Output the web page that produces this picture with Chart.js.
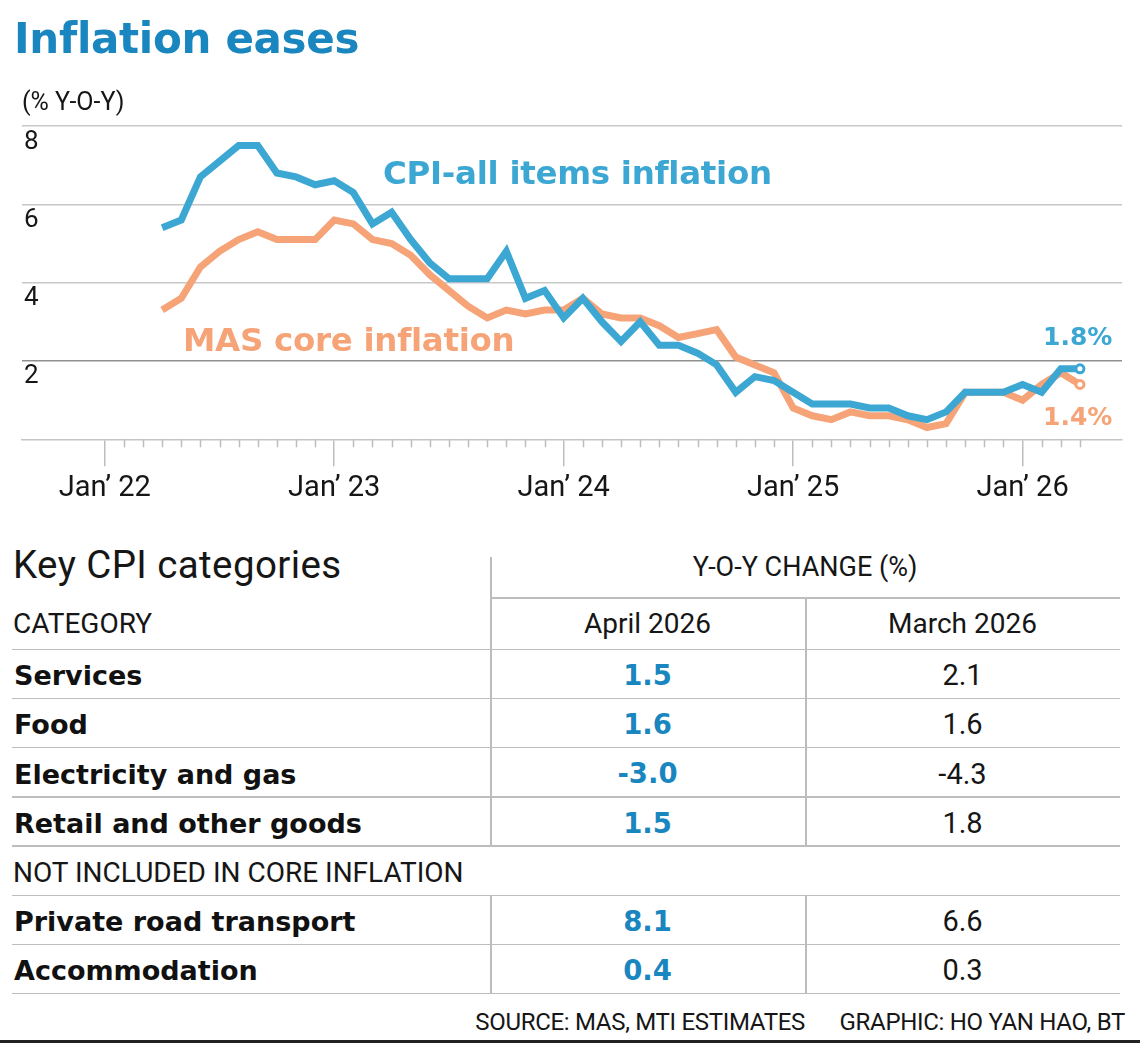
<!DOCTYPE html>
<html>
<head>
<meta charset="utf-8">
<title>Inflation eases</title>
<script src="https://cdn.jsdelivr.net/npm/chart.js@4.4.1/dist/chart.umd.min.js"></script>
<style>
  body { margin: 0; background: #fff; font-family: Roboto, "Noto Sans", sans-serif; color: #161616; }
  #page { position: relative; width: 1140px; height: 1045px; overflow: hidden; background: #fff; }
  #chartBox { position: absolute; left: 0; top: 0; width: 1140px; height: 520px; }
  .t { position: absolute; white-space: nowrap; line-height: 1; }
  .bold { font-family: "DejaVu Sans", Roboto, sans-serif; font-weight: 700; }
  .hl { position: absolute; height: 1.5px; background: #bdbdbd; }
  .vl { position: absolute; width: 1.5px; background: #bdbdbd; }
</style>
</head>
<body>
<div id="page">
  <div id="chartBox"><canvas id="inflationChart"></canvas></div>
</div>

<script>
// ---- data ----
// month index: 0 = Jan 2022, series start at Apr 2022 (index 3)
const firstMonth = 3;
const cpiAllItems = [
    5.4, 5.6, 6.7, 7.1, 7.5, 7.5, 6.8, 6.7, 6.5,                 // Apr-Dec 2022
    6.6, 6.3, 5.5, 5.8, 5.1, 4.5, 4.1, 4.1, 4.1, 4.8, 3.6, 3.8,  // 2023
    3.1, 3.6, 3.0, 2.5, 3.0, 2.4, 2.4, 2.2, 1.9, 1.2, 1.6, 1.5,  // 2024
    1.2, 0.9, 0.9, 0.9, 0.8, 0.8, 0.6, 0.5, 0.7, 1.2, 1.2, 1.2,  // 2025
    1.4, 1.2, 1.8, 1.8                                           // Jan-Apr 2026
];
const masCore = [
    3.3, 3.6, 4.4, 4.8, 5.1, 5.3, 5.1, 5.1, 5.1,
    5.6, 5.5, 5.1, 5.0, 4.7, 4.2, 3.8, 3.4, 3.1, 3.3, 3.2, 3.3,
    3.3, 3.6, 3.2, 3.1, 3.1, 2.9, 2.6, 2.7, 2.8, 2.1, 1.9, 1.7,
    0.8, 0.6, 0.5, 0.7, 0.6, 0.6, 0.5, 0.3, 0.4, 1.2, 1.2, 1.2,
    1.0, 1.4, 1.7, 1.4
];
const yearTicks = [0, 12, 24, 36, 48];
const yearLabels = ['Jan\u2019 22', 'Jan\u2019 23', 'Jan\u2019 24', 'Jan\u2019 25', 'Jan\u2019 26'];
const yTicks = [0, 2, 4, 6, 8];

const categories = ['Services', 'Food', 'Electricity and gas', 'Retail and other goods',
                    'Private road transport', 'Accommodation'];
const april2026 = [1.5, 1.6, -3.0, 1.5, 8.1, 0.4];
const march2026 = [2.1, 1.6, -4.3, 1.8, 6.6, 0.3];
const coreCount = 4; // first four rows are in core inflation

// ---- layout ----
const PLOT = { left: 22, right: 1122, top: 126, bottom: 439.3 };
const BLUE_LINE = '#3ca7d2';
const ORANGE_LINE = '#f5a377';
const BLUE_TEXT = '#1a86bf';
const page = document.getElementById('page');

// place text so its cap-height centre sits on cy
function addText(str, x, cy, size, opts = {}) {
    const el = document.createElement('div');
    el.className = 't' + (opts.bold ? ' bold' : '');
    el.textContent = str;
    el.style.fontSize = size + 'px';
    el.style.top = (cy - 0.49 * size) + 'px';
    if (opts.color) el.style.color = opts.color;
    if (opts.spacing) el.style.letterSpacing = opts.spacing + 'px';
    if (opts.align === 'center') {
        el.style.left = x + 'px';
        el.style.transform = 'translateX(-50%)';
    } else if (opts.align === 'right') {
        el.style.right = (1140 - x) + 'px';
    } else {
        el.style.left = x + 'px';
    }
    page.appendChild(el);
    return el;
}

function addLine(cls, x, y, len) {
    const el = document.createElement('div');
    el.className = cls;
    el.style.left = x + 'px';
    el.style.top = y + 'px';
    if (cls === 'hl') el.style.width = len + 'px'; else el.style.height = len + 'px';
    page.appendChild(el);
    return el;
}

// ---- headings and chart annotations ----
addText('Inflation eases', 14, 38.5, 42, { bold: true, color: BLUE_TEXT, spacing: -0.3 });
addText('(% Y-O-Y)', 22, 101, 25);
addText('CPI-all items inflation', 383, 173, 32.5, { bold: true, color: BLUE_LINE, spacing: -0.3 });
addText('MAS core inflation', 183, 340, 32.5, { bold: true, color: ORANGE_LINE, spacing: -0.3 });
addText(cpiAllItems[cpiAllItems.length - 1].toFixed(1) + '%', 1043, 336, 25, { bold: true, color: BLUE_LINE });
addText(masCore[masCore.length - 1].toFixed(1) + '%', 1043, 416, 25, { bold: true, color: ORANGE_LINE });

// ---- chart ----
const toPoints = arr => arr.map((v, i) => ({ x: firstMonth + i, y: v }));
const lastOnly = r => (ctx) => ctx.dataIndex === ctx.dataset.data.length - 1 ? r : 0;

// short monthly ticks under the axis (Jan ticks come from the x scale itself)
const monthTicks = {
    id: 'monthTicks',
    afterDraw(chart) {
        const x = chart.scales.x;
        const ctx = chart.ctx;
        const y0 = chart.chartArea.bottom;
        ctx.save();
        ctx.strokeStyle = '#bdbdbd';
        ctx.lineWidth = 1.5;
        const last = firstMonth + cpiAllItems.length - 1;
        for (let m = 1; m <= last; m++) {
            if (m % 12 === 0) continue;
            const px = Math.round(x.getPixelForValue(m)) + 0.5;
            ctx.beginPath();
            ctx.moveTo(px, y0);
            ctx.lineTo(px, y0 + 8);
            ctx.stroke();
        }
        ctx.restore();
    }
};

function lineDataset(label, values, color, order) {
    return {
        label: label,
        data: toPoints(values),
        borderColor: color,
        borderWidth: 7,
        tension: 0,
        borderJoinStyle: 'miter',
        pointRadius: lastOnly(4),
        pointHoverRadius: 0,
        pointBackgroundColor: '#fff',
        pointBorderColor: color,
        pointBorderWidth: 3,
        order: order
    };
}

const ctx = document.getElementById('inflationChart').getContext('2d');
const inflationChart = new Chart(ctx, {
    type: 'line',
    data: {
        datasets: [
            lineDataset('CPI-all items inflation', cpiAllItems, BLUE_LINE, 0),
            lineDataset('MAS core inflation', masCore, ORANGE_LINE, 1)
        ]
    },
    options: {
        responsive: true,
        maintainAspectRatio: false,
        animation: false,
        layout: { padding: { left: 20, right: 18, top: 126, bottom: 20 } },
        plugins: { legend: { display: false }, tooltip: { enabled: false } },
        scales: {
            x: {
                type: 'linear',
                min: -4.33,
                max: 53.2,
                afterBuildTicks: axis => { axis.ticks = yearTicks.map(v => ({ value: v })); },
                ticks: {
                    callback: v => yearLabels[yearTicks.indexOf(v)],
                    font: { family: 'Roboto', size: 29 },
                    color: '#161616',
                    padding: 5,
                    maxRotation: 0,
                    autoSkip: false
                },
                grid: { drawOnChartArea: false, drawTicks: true, tickLength: 27, color: '#bdbdbd', lineWidth: 1.5 },
                border: { display: true, color: '#c4c4c4', width: 1.5 }
            },
            y: {
                min: 0,
                max: 8,
                afterBuildTicks: axis => { axis.ticks = yTicks.map(v => ({ value: v })); },
                ticks: {
                    mirror: true,
                    padding: 2,
                    labelOffset: 16,
                    callback: v => v === 0 ? '' : String(v),
                    font: { family: 'Roboto', size: 26 },
                    color: '#161616'
                },
                grid: {
                    drawTicks: false,
                    lineWidth: 1.5,
                    color: c => c.tick && c.tick.value === 2 ? '#8f8f8f' : (c.tick && c.tick.value === 0 ? 'rgba(0,0,0,0)' : '#c8c8c8')
                },
                border: { display: false }
            }
        }
    },
    plugins: [monthTicks]
});

// pin the plot area to the reference position
function fitArea(chart) {
    const a = chart.chartArea;
    const p = chart.options.layout.padding;
    p.top += PLOT.top - a.top;
    p.bottom += a.bottom - PLOT.bottom;
    p.left += PLOT.left - a.left;
    p.right += a.right - PLOT.right;
    chart.update('none');
}
fitArea(inflationChart);
fitArea(inflationChart);

// ---- table ----
const COL1 = 490, COL2 = 805, TABLE_RIGHT = 1120, TABLE_LEFT = 12;
const ROW_H = 49.2;
const headerLine = 597, firstRowLine = 648.5;

addText('Key CPI categories', 13, 565, 38.5, { spacing: 0.4 });
addText('Y-O-Y CHANGE (%)', (COL1 + TABLE_RIGHT) / 2, 567, 27, { align: 'center' });
addLine('hl', COL1, headerLine, TABLE_RIGHT - COL1);
addText('CATEGORY', 13, 624, 28);
addText('April 2026', (COL1 + COL2) / 2, 624, 28, { align: 'center' });
addText('March 2026', (COL2 + TABLE_RIGHT) / 2, 624, 28, { align: 'center' });
addLine('hl', TABLE_LEFT, firstRowLine, TABLE_RIGHT - TABLE_LEFT);
addLine('vl', COL1, 557, firstRowLine + ROW_H * coreCount - 557);
addLine('vl', COL2, headerLine, firstRowLine + ROW_H * coreCount - headerLine);

let rowTop = firstRowLine;
categories.forEach((name, i) => {
    if (i === coreCount) {
        addText('NOT INCLUDED IN CORE INFLATION', 13, rowTop + 27, 28);
        rowTop += ROW_H;
        addLine('hl', TABLE_LEFT, rowTop, TABLE_RIGHT - TABLE_LEFT);
        addLine('vl', COL1, rowTop, ROW_H * (categories.length - coreCount));
        addLine('vl', COL2, rowTop, ROW_H * (categories.length - coreCount));
    }
    const cy = rowTop + 27;
    addText(name, 14, cy, 27, { bold: true, color: '#111' });
    addText(april2026[i].toFixed(1), (COL1 + COL2) / 2, cy, 27.5, { bold: true, color: BLUE_TEXT, align: 'center' });
    addText(march2026[i].toFixed(1), (COL2 + TABLE_RIGHT) / 2, cy, 29, { align: 'center' });
    rowTop += ROW_H;
    addLine('hl', TABLE_LEFT, rowTop, TABLE_RIGHT - TABLE_LEFT);
});

// ---- footer ----
addText('SOURCE: MAS, MTI ESTIMATES', 805, 1022, 24, { align: 'right', spacing: -0.3 });
addText('GRAPHIC: HO YAN HAO, BT', 1125, 1022, 24, { align: 'right', spacing: -0.3 });
const rule = addLine('hl', 0, 1040, 1140);
rule.style.height = '3px';
rule.style.background = '#222';
</script>
</body>
</html>
